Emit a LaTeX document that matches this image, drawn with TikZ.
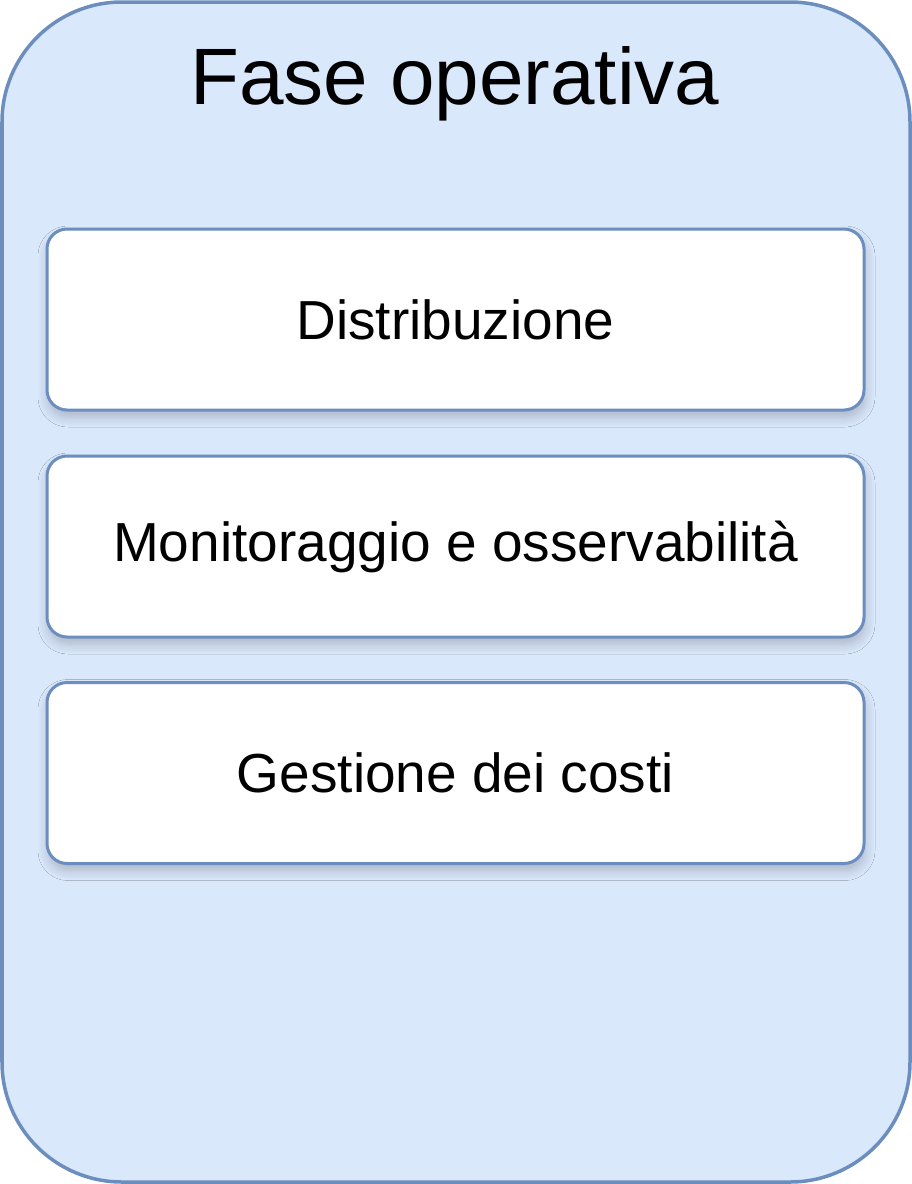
\documentclass[tikz,border=0pt]{standalone}
\usepackage{fontspec}
\setmainfont{Liberation Sans}
\usetikzlibrary{shadows,shadows.blur}
\definecolor{phasefill}{HTML}{DAE8FC}
\definecolor{phaseline}{HTML}{6C8EBF}
\tikzset{
  phasebox/.style={draw=phaseline, fill=phasefill, line width=3.5pt, rounded corners=120pt},
  itembox/.style={draw=phaseline, fill=white, line width=3pt, rounded corners=20pt,
    minimum width=817pt, minimum height=181pt, inner sep=0pt,
    font=\fontsize{55pt}{60pt}\selectfont,
    blur shadow={shadow xshift=1pt, shadow yshift=-7pt, shadow blur steps=10, shadow blur radius=10pt, shadow opacity=22}},
  titletext/.style={font=\fontsize{80pt}{90pt}\selectfont, inner sep=0pt}
}
\begin{document}
\begin{tikzpicture}[x=1pt,y=-1pt]
\useasboundingbox (0,0) rectangle (912,1184);
\draw[phasebox] (2,2) rectangle (910,1182);
\node[titletext, anchor=base] (title) at (455,104) {Fase operativa};
\node[itembox] (b1) at (455.5,319.5) {Distribuzione};
\node[itembox] (b2) at (455.5,546.5) {Monitoraggio e osservabilità};
\node[itembox] (b3) at (455.5,773) {Gestione dei costi};
\end{tikzpicture}
\end{document}
